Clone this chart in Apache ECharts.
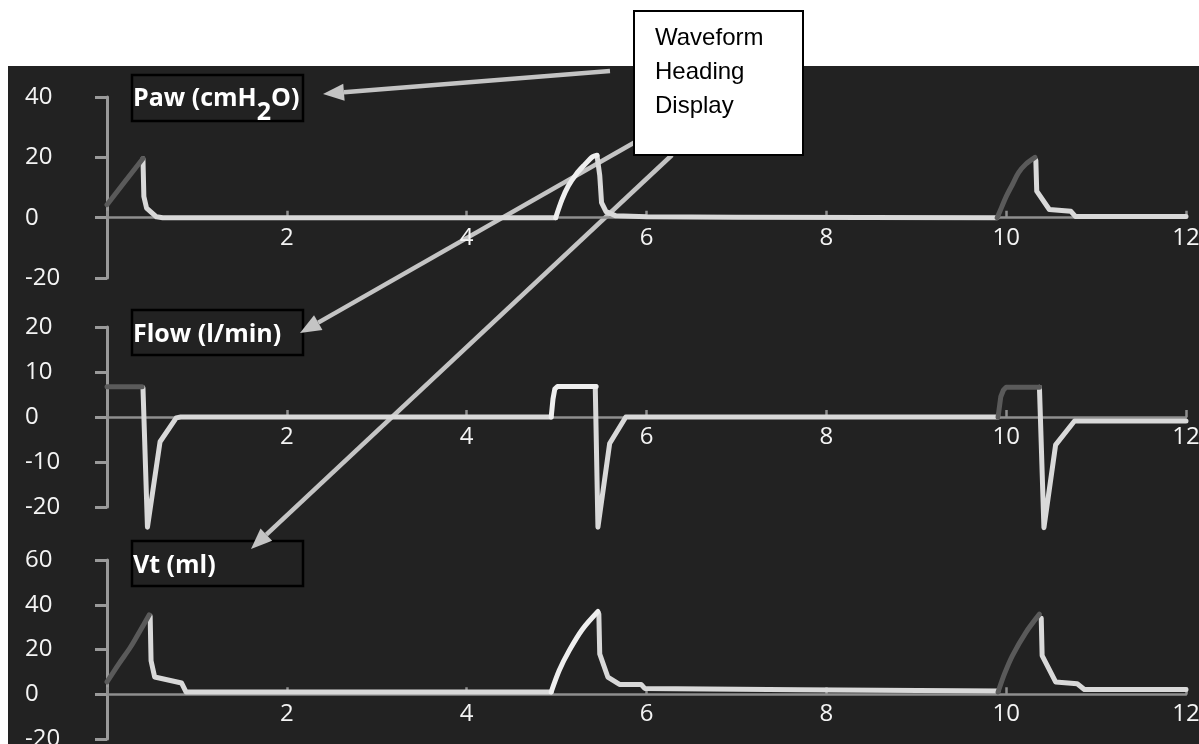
<!DOCTYPE html>
<html>
<head>
<meta charset="utf-8">
<script src="https://cdn.jsdelivr.net/npm/echarts@6/dist/echarts.min.js"></script>
<style>
  html, body { margin: 0; padding: 0; background: #fff; }
  #chart { width: 1199px; height: 744px; }
</style>
</head>
<body>
<div id="chart"></div>
<script>
// ---- Data (time in s, value per panel) ----
const timeRange = [0, 12, 2];

// Paw (cmH2O)
const pawRange = [-20, 40, 20];
const pawInsp1 = [[0, 4.3], [0.2, 12], [0.4, 19.6]];
const pawExp1 = [[0.4, 19.5], [0.41, 7], [0.44, 3.2], [0.55, 0.3], [0.62, 0], [4.99, 0]];
const pawInsp2 = [[4.99, 0], [5.06, 6], [5.13, 10.5], [5.22, 14.5], [5.31, 17.5], [5.4, 20.2], [5.45, 20.7]];
const pawExp2 = [[5.45, 20.5], [5.48, 14], [5.5, 5], [5.55, 2], [5.66, 0.6], [6.0, 0.3], [7.0, 0.1], [9.9, 0]];
const pawInsp3 = [[9.9, 0], [9.95, 3.5], [10.0, 7], [10.07, 11], [10.14, 15], [10.22, 17.8], [10.32, 20]];
const pawExp3 = [[10.33, 19], [10.34, 8.8], [10.48, 2.7], [10.72, 2.1], [10.77, 0.4], [12, 0.4]];

// Flow (l/min)
const flowRange = [-20, 20, 10];
const flowInsp1 = [[0, 6.7], [0.39, 6.7]];
const flowExp1 = [[0.4, 6.5], [0.45, -24.5], [0.59, -5.5], [0.77, -0.2], [0.82, 0], [4.94, 0]];
const flowInsp2 = [[4.94, 0], [4.96, 4], [4.98, 6.2], [5.01, 6.8], [5.44, 6.8]];
const flowExp2 = [[5.43, 6.8], [5.46, -24.5], [5.59, -5.9], [5.77, 0], [9.91, 0]];
const flowInsp3 = [[9.91, 0], [9.94, 4.5], [9.97, 6], [10.0, 6.6], [10.37, 6.6]];
const flowExp3 = [[10.37, 6.6], [10.42, -24.6], [10.55, -6.2], [10.76, -0.9], [12, -0.9]];

// Vt (ml)
const vtRange = [-20, 60, 20];
const vtInsp1 = [[0, 5.5], [0.13, 13.5], [0.26, 21], [0.37, 28.5], [0.47, 35.5]];
const vtExp1 = [[0.48, 35], [0.49, 15], [0.53, 7.7], [0.83, 5], [0.88, 1], [4.94, 1]];
const vtInsp2 = [[4.94, 1], [5.03, 10.7], [5.14, 19.5], [5.29, 29.2], [5.46, 37]];
const vtExp2 = [[5.47, 36], [5.48, 18], [5.57, 7.7], [5.7, 4.4], [5.94, 4.4], [5.98, 2.6], [7.7, 2], [9.91, 1.4]];
const vtInsp3 = [[9.91, 1], [9.98, 9], [10.07, 17.3], [10.22, 27.7], [10.37, 35.8]];
const vtExp3 = [[10.39, 34], [10.4, 17.3], [10.55, 5.5], [10.79, 4.7], [10.87, 2.1], [12, 2.1]];

const DARK = '#5a5a5a';
const LIGHT = '#d9d9d9';
const BRIGHT = '#efefef';
const FONT = '"Open Sans", sans-serif';

// ---- Layout ----
const grids = [
  { left: 107, top: 97, width: 1079, height: 181, outerBoundsMode: 'none' },
  { left: 107, top: 327, width: 1079, height: 180, outerBoundsMode: 'none' },
  { left: 107, top: 560, width: 1079, height: 179, outerBoundsMode: 'none' }
];
const ranges = [pawRange, flowRange, vtRange];

// x axis sits on the zero line: shift it up from the grid bottom
const xAxes = grids.map((g, i) => ({
  type: 'value',
  gridIndex: i,
  position: 'bottom',
  offset: -g.height * (0 - ranges[i][0]) / (ranges[i][1] - ranges[i][0]),
  min: timeRange[0],
  max: timeRange[1],
  interval: timeRange[2],
  axisLine: { onZero: false, lineStyle: { color: '#8f8f8f', width: 2.5 } },
  axisTick: { inside: true, length: 7, lineStyle: { color: '#8f8f8f', width: 2.5 } },
  axisLabel: {
    margin: 8,
    color: '#f4f4f4',
    fontSize: 24,
    fontFamily: FONT,
    formatter: v => (v === 0 ? '' : v)
  },
  splitLine: { show: false }
}));

const yAxes = ranges.map((r, i) => ({
  type: 'value',
  gridIndex: i,
  min: r[0],
  max: r[1],
  interval: r[2],
  axisLine: { show: true, lineStyle: { color: '#9a9a9a', width: 3 } },
  axisTick: { show: true, length: 12, lineStyle: { color: '#9a9a9a', width: 3 } },
  axisLabel: {
    align: 'left',
    margin: 82,
    color: '#f4f4f4',
    fontSize: 24,
    fontFamily: FONT
  },
  splitLine: { show: false }
}));

function trace(data, idx, color, smooth) {
  return {
    type: 'line',
    xAxisIndex: idx,
    yAxisIndex: idx,
    data: data,
    showSymbol: false,
    clip: false,
    smooth: smooth ? 0.3 : false,
    silent: true,
    lineStyle: { color: color, width: 5, cap: 'round', join: 'round' }
  };
}

const series = [
  trace(pawExp1, 0, LIGHT), trace(pawExp2, 0, LIGHT), trace(pawExp3, 0, LIGHT),
  trace(pawInsp1, 0, DARK), trace(pawInsp2, 0, BRIGHT, true), trace(pawInsp3, 0, DARK, true),
  trace(flowExp1, 1, LIGHT), trace(flowExp2, 1, LIGHT), trace(flowExp3, 1, LIGHT),
  trace(flowInsp1, 1, DARK), trace(flowInsp2, 1, BRIGHT), trace(flowInsp3, 1, DARK),
  trace(vtExp1, 2, LIGHT), trace(vtExp2, 2, LIGHT), trace(vtExp3, 2, LIGHT),
  trace(vtInsp1, 2, DARK, true), trace(vtInsp2, 2, BRIGHT, true), trace(vtInsp3, 2, DARK, true)
];

// ---- Annotations ----
function headingBox(y, h, text, rich) {
  return {
    type: 'group',
    z: 50,
    children: [
      {
        type: 'rect',
        shape: { x: 132, y: y, width: 171, height: h },
        style: { fill: 'none', stroke: '#000', lineWidth: 2.5 }
      },
      {
        type: 'text',
        x: 133,
        y: y + h / 2 + 2,
        style: {
          text: text,
          fill: '#fff',
          font: 'bold 25px ' + FONT,
          verticalAlign: 'middle',
          align: 'left',
          rich: rich
        }
      }
    ]
  };
}

function arrow(x1, y1, x2, y2) {
  const ang = Math.atan2(y2 - y1, x2 - x1);
  const len = 21, hw = 8.5;
  const bx = x2 - len * Math.cos(ang), by = y2 - len * Math.sin(ang);
  const px = -Math.sin(ang) * hw, py = Math.cos(ang) * hw;
  return {
    type: 'group',
    z: 80,
    children: [
      {
        type: 'line',
        shape: { x1: x1, y1: y1, x2: bx, y2: by },
        style: { stroke: '#c4c4c4', lineWidth: 4.5 }
      },
      {
        type: 'polygon',
        shape: { points: [[x2, y2], [bx + px, by + py], [bx - px, by - py]] },
        style: { fill: '#c4c4c4' }
      }
    ]
  };
}

const richPaw = {
  a: { fill: '#fff', fontSize: 25, fontWeight: 'bold', fontFamily: FONT, lineHeight: 28, verticalAlign: 'top' },
  s: { fill: '#fff', fontSize: 25, fontWeight: 'bold', fontFamily: FONT, lineHeight: 28, verticalAlign: 'top', padding: [14, 0, 0, 0] }
};

const chart = echarts.init(document.getElementById('chart'));
chart.setOption({
  backgroundColor: '#ffffff',
  animation: false,
  grid: grids,
  xAxis: xAxes,
  yAxis: yAxes,
  series: series,
  graphic: {
    elements: [
      {
        type: 'rect',
        z: -100,
        shape: { x: 8, y: 66, width: 1191, height: 678 },
        style: { fill: '#222222' }
      },
      headingBox(75, 46, '{a|Paw (cmH}{s|2}{a|O)}', richPaw),
      headingBox(310, 45, 'Flow (l/min)'),
      headingBox(541, 45, 'Vt (ml)'),
      arrow(610, 71, 323, 94),
      arrow(637, 141, 300, 333),
      arrow(672, 155, 251, 549),
      {
        type: 'group',
        z: 90,
        children: [
          {
            type: 'rect',
            shape: { x: 634, y: 11, width: 169, height: 144 },
            style: { fill: '#fff', stroke: '#000', lineWidth: 2 }
          },
          {
            type: 'text',
            x: 655,
            y: 21,
            style: {
              text: 'Waveform\nHeading\nDisplay',
              fill: '#000',
              font: '24px "Liberation Sans", Arial, sans-serif',
              lineHeight: 34,
              align: 'left',
              verticalAlign: 'top'
            }
          }
        ]
      }
    ]
  }
});
window.addEventListener('resize', () => chart.resize());
</script>
</body>
</html>
